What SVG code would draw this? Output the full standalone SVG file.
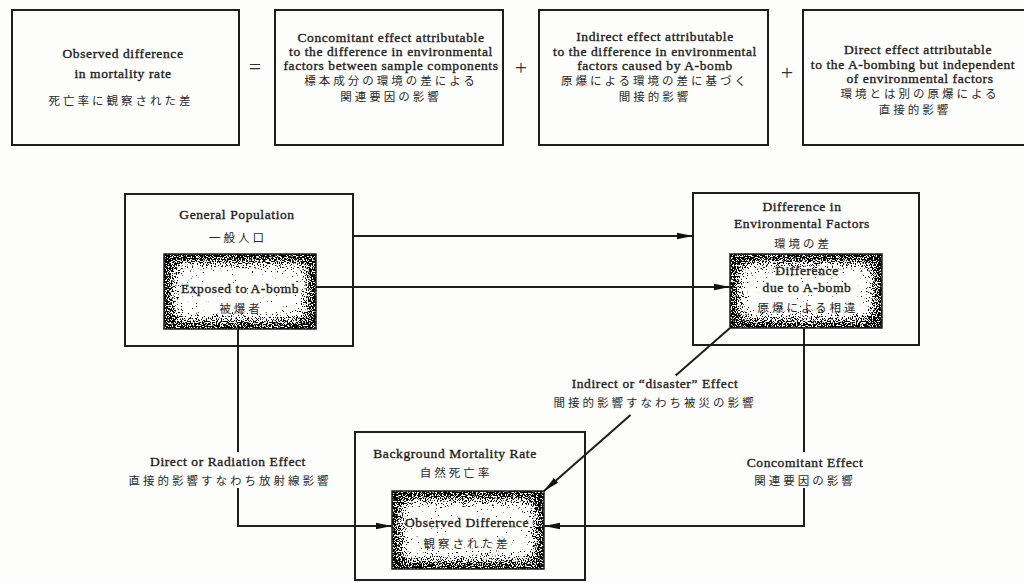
<svg xmlns="http://www.w3.org/2000/svg" width="1024" height="583" viewBox="0 0 1024 583">
<style>
.bg{fill:#fdfdfc}
.box{fill:#fdfdfc;stroke:#1e1e1e;stroke-width:2}
.inner{stroke:#1e1e1e;stroke-width:1.5;fill:none}
.t{font-family:"Liberation Serif","Times New Roman",serif;font-size:13.5px;fill:#222;stroke:#222;stroke-width:0.35;text-anchor:middle;dominant-baseline:central;letter-spacing:0.6px}
.j{font-family:"Noto Sans CJK JP","Noto Sans CJK SC",sans-serif;font-size:11.5px;fill:#2a2a2a;text-anchor:middle;dominant-baseline:central;letter-spacing:3px}
.op{font-family:"Liberation Serif",serif;font-size:22px;fill:#333;text-anchor:middle;dominant-baseline:central}
.ln{fill:none;stroke:#1e1e1e;stroke-width:2}
.sh{fill:#000}
</style>
<defs>
<marker id="arr" viewBox="0 0 16 8" refX="16" refY="4" markerWidth="16" markerHeight="8" markerUnits="userSpaceOnUse" orient="auto">
<path d="M0,0.8 L16,4 L0,7.2 Z" fill="#111"/>
</marker>
<filter id="stip" x="0" y="0" width="1" height="1" color-interpolation-filters="sRGB">
<feMorphology in="SourceAlpha" operator="erode" radius="11" result="er"/>
<feGaussianBlur in="er" stdDeviation="7" result="bl"/>
<feComponentTransfer in="bl" result="edge"><feFuncA type="linear" slope="-1" intercept="1"/></feComponentTransfer>
<feTurbulence type="fractalNoise" baseFrequency="0.8" numOctaves="2" seed="7" result="n"/>
<feColorMatrix in="n" type="matrix" values="0 0 0 0 0  0 0 0 0 0  0 0 0 0 0  1 0 0 0 0" result="na"/>
<feComposite in="edge" in2="na" operator="arithmetic" k1="0" k2="0.75" k3="2" k4="-1.05" result="c"/>
<feComponentTransfer in="c"><feFuncA type="linear" slope="10" intercept="-4.5"/></feComponentTransfer>
</filter>
</defs>
<rect class="bg" x="0" y="0" width="1024" height="583"/>

<g id="eq-observed">
<rect class="box" x="12" y="10" width="227" height="135"/>
<text class="t" x="123" y="53">Observed difference</text>
<text class="t" x="123" y="73">in mortality rate</text>
<text class="j" x="121" y="100">死亡率に観察された差</text>
</g>
<text class="op" x="255" y="66">=</text>
<g id="eq-concomitant">
<rect class="box" x="275" y="10" width="228" height="135"/>
<text class="t" x="391" y="37">Concomitant effect attributable</text>
<text class="t" x="391" y="51">to the difference in environmental</text>
<text class="t" x="391" y="65">factors between sample components</text>
<text class="j" x="391" y="80">標本成分の環境の差による</text>
<text class="j" x="391" y="96">関連要因の影響</text>
</g>
<text class="op" x="521" y="67">+</text>
<g id="eq-indirect">
<rect class="box" x="539" y="10" width="229" height="135"/>
<text class="t" x="655" y="36">Indirect effect attributable</text>
<text class="t" x="655" y="51">to the difference in environmental</text>
<text class="t" x="655" y="65">factors caused by A-bomb</text>
<text class="j" x="655" y="80">原爆による環境の差に基づく</text>
<text class="j" x="655" y="96">間接的影響</text>
</g>
<text class="op" x="787" y="72">+</text>
<g id="eq-direct">
<rect class="box" x="803" y="10" width="240" height="135"/>
<text class="t" x="918" y="49">Direct effect attributable</text>
<text class="t" x="913" y="64">to the A-bombing but independent</text>
<text class="t" x="920" y="78">of environmental factors</text>
<text class="j" x="920" y="93">環境とは別の原爆による</text>
<text class="j" x="915" y="109">直接的影響</text>
</g>

<g id="general-population">
<rect class="box" x="125" y="194" width="228" height="152"/>
<text class="t" x="237" y="214">General Population</text>
<text class="j" x="238" y="237">一般人口</text>
</g>
<g id="exposed">
<rect x="164" y="254" width="152" height="75" fill="#fdfdfc"/>
<rect class="sh" x="164" y="254" width="152" height="75" filter="url(#stip)"/>
<rect class="inner" x="164" y="254" width="152" height="75"/>
<text class="t" x="240" y="288">Exposed to A-bomb</text>
<text class="j" x="241" y="308">被爆者</text>
</g>

<g id="environmental">
<rect class="box" x="693" y="193" width="226" height="152"/>
<text class="t" x="802" y="206">Difference in</text>
<text class="t" x="802" y="223">Environmental Factors</text>
<text class="j" x="803" y="243">環境の差</text>
</g>
<g id="difference-abomb">
<rect x="730" y="254" width="152" height="74" fill="#fdfdfc"/>
<rect class="sh" x="730" y="254" width="152" height="74" filter="url(#stip)"/>
<rect class="inner" x="730" y="254" width="152" height="74"/>
<text class="t" x="807" y="270">Difference</text>
<text class="t" x="807" y="287">due to A-bomb</text>
<text class="j" x="808" y="307">原爆による相違</text>
</g>

<g id="background">
<rect class="box" x="355" y="432" width="230" height="148"/>
<text class="t" x="455" y="453">Background Mortality Rate</text>
<text class="j" x="456" y="472">自然死亡率</text>
</g>
<g id="observed">
<rect x="392" y="491" width="152" height="78" fill="#fdfdfc"/>
<rect class="sh" x="392" y="491" width="152" height="78" filter="url(#stip)"/>
<rect class="inner" x="392" y="491" width="152" height="78"/>
<text class="t" x="467" y="522">Observed Difference</text>
<text class="j" x="467" y="543">観察された差</text>
</g>

<g id="connectors">
<path class="ln" d="M353,236 H693" marker-end="url(#arr)"/>
<path class="ln" d="M316,287 H730" marker-end="url(#arr)"/>
<path class="ln" d="M238,329 V452 M238,488 V526 H392" marker-end="url(#arr)"/>
<path class="ln" d="M804,328 V452 M804,488 V526 H544" marker-end="url(#arr)"/>
<path class="ln" d="M730,328 L675.7,375.5 M630.5,415 L544,491" marker-end="url(#arr)"/>
</g>
<g id="labels">
<text class="t" x="228" y="461">Direct or Radiation Effect</text>
<text class="j" x="230" y="480">直接的影響すなわち放射線影響</text>
<text class="t" x="655" y="383">Indirect or “disaster” Effect</text>
<text class="j" x="655" y="402">間接的影響すなわち被災の影響</text>
<text class="t" x="805" y="462">Concomitant Effect</text>
<text class="j" x="805" y="480">関連要因の影響</text>
</g>
</svg>
